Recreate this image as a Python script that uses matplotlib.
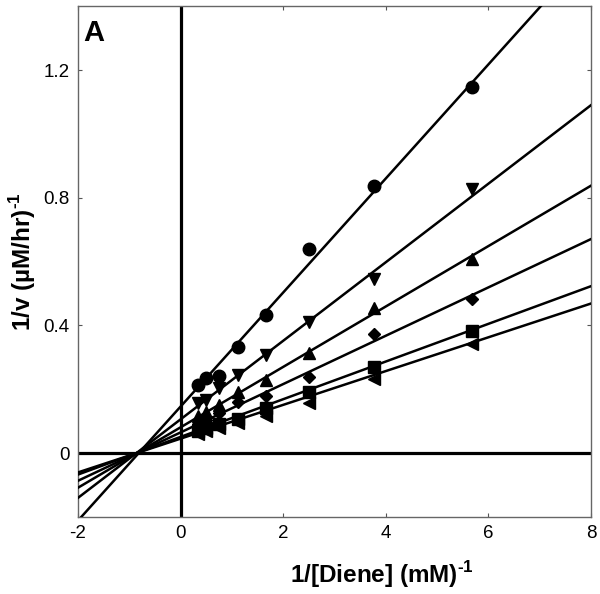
import numpy as np
import matplotlib
matplotlib.use("Agg")
import matplotlib.pyplot as plt

plt.rcParams['font.family'] = ['Liberation Sans', 'DejaVu Sans']
plt.rcParams['mathtext.fontset'] = 'custom'
plt.rcParams['mathtext.rm'] = 'Liberation Sans:bold'
plt.rcParams['mathtext.bf'] = 'Liberation Sans:bold'
plt.rcParams['axes.unicode_minus'] = False

# 1/[Diene] values (mM^-1)
inv_diene = [0.33, 0.5, 0.74, 1.11, 1.67, 2.5, 3.77, 5.69]

# 1/v for each series
circle_y = [0.215, 0.234, 0.243, 0.331, 0.432, 0.639, 0.838, 1.148]
tridown_y = [0.156, 0.168, 0.203, 0.246, 0.309, 0.410, 0.546, 0.826]
triup_y = [0.115, 0.130, 0.152, 0.193, 0.228, 0.315, 0.455, 0.607]
diamond_y = [0.092, 0.105, 0.125, 0.160, 0.178, 0.240, 0.372, 0.482]
square_y = [0.068, 0.078, 0.092, 0.108, 0.140, 0.192, 0.269, 0.384]
lefttri_y = [0.060, 0.068, 0.080, 0.095, 0.115, 0.158, 0.231, 0.343]

# fitted lines (slope, intercept)
fit_slopes = [0.1786, 0.123, 0.0946, 0.0757, 0.059, 0.0529]
fit_intercepts = [0.146, 0.106, 0.081, 0.065, 0.051, 0.0455]

series = [circle_y, tridown_y, triup_y, diamond_y, square_y, lefttri_y]
markers = ['o', 'v', '^', 'D', 's', '<']
msizes = [9, 8.5, 8.5, 6.5, 8, 8.5]

fig = plt.figure(figsize=(6, 5.94), dpi=100)
ax = fig.add_axes([0.13, 0.1296, 0.855, 0.86])

xline = np.linspace(-2, 8, 200)
for s, b in zip(fit_slopes, fit_intercepts):
    ax.plot(xline, s * xline + b, color='black', lw=1.8, zorder=3)

for ys, m, ms in zip(series, markers, msizes):
    ax.plot(inv_diene, ys, linestyle='none', marker=m, ms=ms, color='black', zorder=4)

# axes through origin
ax.axhline(0, color='black', lw=2.3, zorder=2)
ax.axvline(0, color='black', lw=2.3, zorder=2)

ax.set_xlim(-2, 8)
ax.set_ylim(-0.2, 1.4)
ax.set_xticks([-2, 0, 2, 4, 6, 8])
ax.set_yticks([0, 0.4, 0.8, 1.2])
ax.set_yticklabels(['0', '0.4', '0.8', '1.2'])
ax.tick_params(direction='in', length=3, width=0.8, labelsize=13.5, top=True, right=True,
               color='#555555', pad=6)
for sp in ax.spines.values():
    sp.set_color('#666666')
    sp.set_linewidth(1.0)

fig.text(0.637, 0.0185, r'1/[Diene] (mM)$^{\text{-1}}$', fontsize=17.5, fontweight='bold',
         ha='center', va='baseline')
fig.text(0.037, 0.56, r'1/v (µM/hr)$^{\text{-1}}$', fontsize=17.5, fontweight='bold',
         rotation=90, ha='center', va='center')

ax.text(0.01, 0.975, 'A', transform=ax.transAxes, fontsize=21, fontweight='bold',
        ha='left', va='top')

fig.savefig('out.png', dpi=100)
